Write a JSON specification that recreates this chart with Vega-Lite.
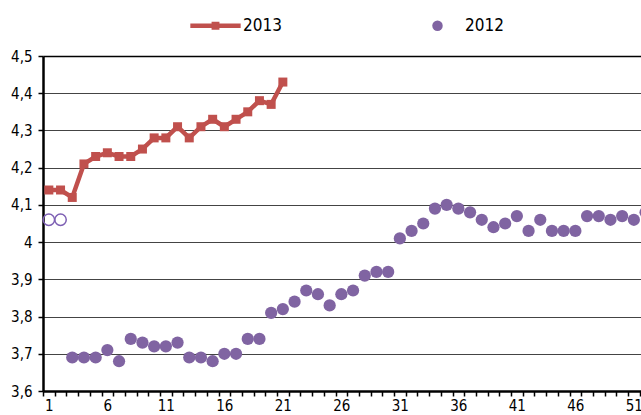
{
  "$schema": "https://vega.github.io/schema/vega-lite/v6.json",
  "width": 598,
  "height": 335,
  "autosize": {"type": "none"},
  "padding": {"left": 43, "top": 56, "right": 0, "bottom": 24},
  "background": "white",
  "config": {
    "view": {"stroke": null},
    "font": "Liberation Sans Narrow, DejaVu Sans Condensed, Liberation Sans, Arial"
  },
  "data": {
    "values": [
      {"series": "2013", "week": 1, "value": 4.14},
      {"series": "2013", "week": 2, "value": 4.14},
      {"series": "2013", "week": 3, "value": 4.12},
      {"series": "2013", "week": 4, "value": 4.21},
      {"series": "2013", "week": 5, "value": 4.23},
      {"series": "2013", "week": 6, "value": 4.24},
      {"series": "2013", "week": 7, "value": 4.23},
      {"series": "2013", "week": 8, "value": 4.23},
      {"series": "2013", "week": 9, "value": 4.25},
      {"series": "2013", "week": 10, "value": 4.28},
      {"series": "2013", "week": 11, "value": 4.28},
      {"series": "2013", "week": 12, "value": 4.31},
      {"series": "2013", "week": 13, "value": 4.28},
      {"series": "2013", "week": 14, "value": 4.31},
      {"series": "2013", "week": 15, "value": 4.33},
      {"series": "2013", "week": 16, "value": 4.31},
      {"series": "2013", "week": 17, "value": 4.33},
      {"series": "2013", "week": 18, "value": 4.35},
      {"series": "2013", "week": 19, "value": 4.38},
      {"series": "2013", "week": 20, "value": 4.37},
      {"series": "2013", "week": 21, "value": 4.43},
      {"series": "2012", "week": 1, "value": 4.06, "part": "start"},
      {"series": "2012", "week": 2, "value": 4.06, "part": "start"},
      {"series": "2012", "week": 3, "value": 3.69},
      {"series": "2012", "week": 4, "value": 3.69},
      {"series": "2012", "week": 5, "value": 3.69},
      {"series": "2012", "week": 6, "value": 3.71},
      {"series": "2012", "week": 7, "value": 3.68},
      {"series": "2012", "week": 8, "value": 3.74},
      {"series": "2012", "week": 9, "value": 3.73},
      {"series": "2012", "week": 10, "value": 3.72},
      {"series": "2012", "week": 11, "value": 3.72},
      {"series": "2012", "week": 12, "value": 3.73},
      {"series": "2012", "week": 13, "value": 3.69},
      {"series": "2012", "week": 14, "value": 3.69},
      {"series": "2012", "week": 15, "value": 3.68},
      {"series": "2012", "week": 16, "value": 3.70},
      {"series": "2012", "week": 17, "value": 3.70},
      {"series": "2012", "week": 18, "value": 3.74},
      {"series": "2012", "week": 19, "value": 3.74},
      {"series": "2012", "week": 20, "value": 3.81},
      {"series": "2012", "week": 21, "value": 3.82},
      {"series": "2012", "week": 22, "value": 3.84},
      {"series": "2012", "week": 23, "value": 3.87},
      {"series": "2012", "week": 24, "value": 3.86},
      {"series": "2012", "week": 25, "value": 3.83},
      {"series": "2012", "week": 26, "value": 3.86},
      {"series": "2012", "week": 27, "value": 3.87},
      {"series": "2012", "week": 28, "value": 3.91},
      {"series": "2012", "week": 29, "value": 3.92},
      {"series": "2012", "week": 30, "value": 3.92},
      {"series": "2012", "week": 31, "value": 4.01},
      {"series": "2012", "week": 32, "value": 4.03},
      {"series": "2012", "week": 33, "value": 4.05},
      {"series": "2012", "week": 34, "value": 4.09},
      {"series": "2012", "week": 35, "value": 4.10},
      {"series": "2012", "week": 36, "value": 4.09},
      {"series": "2012", "week": 37, "value": 4.08},
      {"series": "2012", "week": 38, "value": 4.06},
      {"series": "2012", "week": 39, "value": 4.04},
      {"series": "2012", "week": 40, "value": 4.05},
      {"series": "2012", "week": 41, "value": 4.07},
      {"series": "2012", "week": 42, "value": 4.03},
      {"series": "2012", "week": 43, "value": 4.06},
      {"series": "2012", "week": 44, "value": 4.03},
      {"series": "2012", "week": 45, "value": 4.03},
      {"series": "2012", "week": 46, "value": 4.03},
      {"series": "2012", "week": 47, "value": 4.07},
      {"series": "2012", "week": 48, "value": 4.07},
      {"series": "2012", "week": 49, "value": 4.06},
      {"series": "2012", "week": 50, "value": 4.07},
      {"series": "2012", "week": 51, "value": 4.06},
      {"series": "2012", "week": 52, "value": 4.08}
    ]
  },
  "encoding": {
    "x": {
      "field": "week",
      "type": "quantitative",
      "scale": {"domain": [0.5, 51.61], "nice": false, "zero": false},
      "axis": {
        "title": null,
        "grid": false,
        "values": [0.5, 1, 1.5, 2.5, 3.5, 4.5, 5.5, 6, 6.5, 7.5, 8.5, 9.5, 10.5, 11, 11.5, 12.5, 13.5, 14.5, 15.5, 16, 16.5, 17.5, 18.5, 19.5, 20.5, 21, 21.5, 22.5, 23.5, 24.5, 25.5, 26, 26.5, 27.5, 28.5, 29.5, 30.5, 31, 31.5, 32.5, 33.5, 34.5, 35.5, 36, 36.5, 37.5, 38.5, 39.5, 40.5, 41, 41.5, 42.5, 43.5, 44.5, 45.5, 46, 46.5, 47.5, 48.5, 49.5, 50.5, 51, 51.5],
        "labelExpr": "datum.value % 1 === 0 ? toString(datum.value) : ''",
        "labelOverlap": false,
        "labelBound": false,
        "labelFlush": false,
        "labelAngle": 0,
        "labelFontSize": 15,
        "labelColor": "#000",
        "labelPadding": 2,
        "domainColor": "#000",
        "domainWidth": 2.5,
        "tickColor": "#000",
        "tickWidth": 1.5,
        "tickSize": 5,
        "tickOpacity": {"condition": {"test": "datum.value % 1 === 0", "value": 0}, "value": 1}
      }
    },
    "y": {
      "field": "value",
      "type": "quantitative",
      "scale": {"domain": [3.6, 4.5], "nice": false, "zero": false},
      "axis": {
        "title": null,
        "values": [3.6, 3.7, 3.8, 3.9, 4.0, 4.1, 4.2, 4.3, 4.4, 4.5],
        "labelExpr": "replace(format(datum.value, '.1~f'), '.', ',')",
        "labelFontSize": 15,
        "labelColor": "#000",
        "labelPadding": 6,
        "domainColor": "#000",
        "domainWidth": 2.5,
        "tickColor": "#000",
        "tickWidth": 1.5,
        "tickSize": 5,
        "grid": true,
        "gridColor": {"condition": {"test": "datum.value >= 4.45", "value": "#000"}, "value": "#444"},
        "gridWidth": {"condition": {"test": "datum.value >= 4.45", "value": 1.5}, "value": 1}
      }
    }
  },
  "layer": [
    {
      "transform": [{"filter": "datum.series === '2013'"}],
      "mark": {"type": "line", "color": "#c0504d", "strokeWidth": 4.5}
    },
    {
      "transform": [{"filter": "datum.series === '2013'"}],
      "mark": {"type": "point", "shape": "square", "filled": true, "opacity": 1, "color": "#c0504d", "size": 81}
    },
    {
      "transform": [{"filter": "datum.series === '2012' && datum.part !== 'start'"}],
      "mark": {"type": "point", "shape": "circle", "filled": true, "opacity": 1, "color": "#8064a2", "size": 150}
    },
    {
      "transform": [{"filter": "datum.part === 'start'"}],
      "mark": {"type": "point", "filled": false, "stroke": "#7d5fb3", "strokeWidth": 1.5, "size": 130, "opacity": 1}
    },
    {
      "transform": [{"filter": "false"}],
      "mark": {"type": "point", "filled": true, "opacity": 1},
      "encoding": {
        "color": {
          "field": "series",
          "type": "nominal",
          "scale": {"domain": ["2013", "2012"], "range": ["#c0504d", "#8064a2"]},
          "legend": {
            "title": null,
            "orient": "none",
            "direction": "horizontal",
            "legendX": 164,
            "legendY": -39,
            "padding": 0,
            "symbolSize": 110,
            "symbolStrokeWidth": 0,
            "labelFontSize": 17,
            "labelColor": "#000",
            "labelOffset": 19,
            "columnPadding": 147
          }
        },
        "shape": {
          "field": "series",
          "type": "nominal",
          "scale": {"domain": ["2013", "2012"], "range": ["M-4.8,-0.45H4.8V0.45H-4.8Z M-0.75,-0.75H0.75V0.75H-0.75Z", "circle"]},
          "legend": {
            "title": null,
            "orient": "none",
            "direction": "horizontal",
            "legendX": 164,
            "legendY": -39,
            "padding": 0,
            "symbolSize": 110,
            "symbolStrokeWidth": 0,
            "labelFontSize": 17,
            "labelColor": "#000",
            "labelOffset": 19,
            "columnPadding": 147
          }
        }
      }
    }
  ]
}
